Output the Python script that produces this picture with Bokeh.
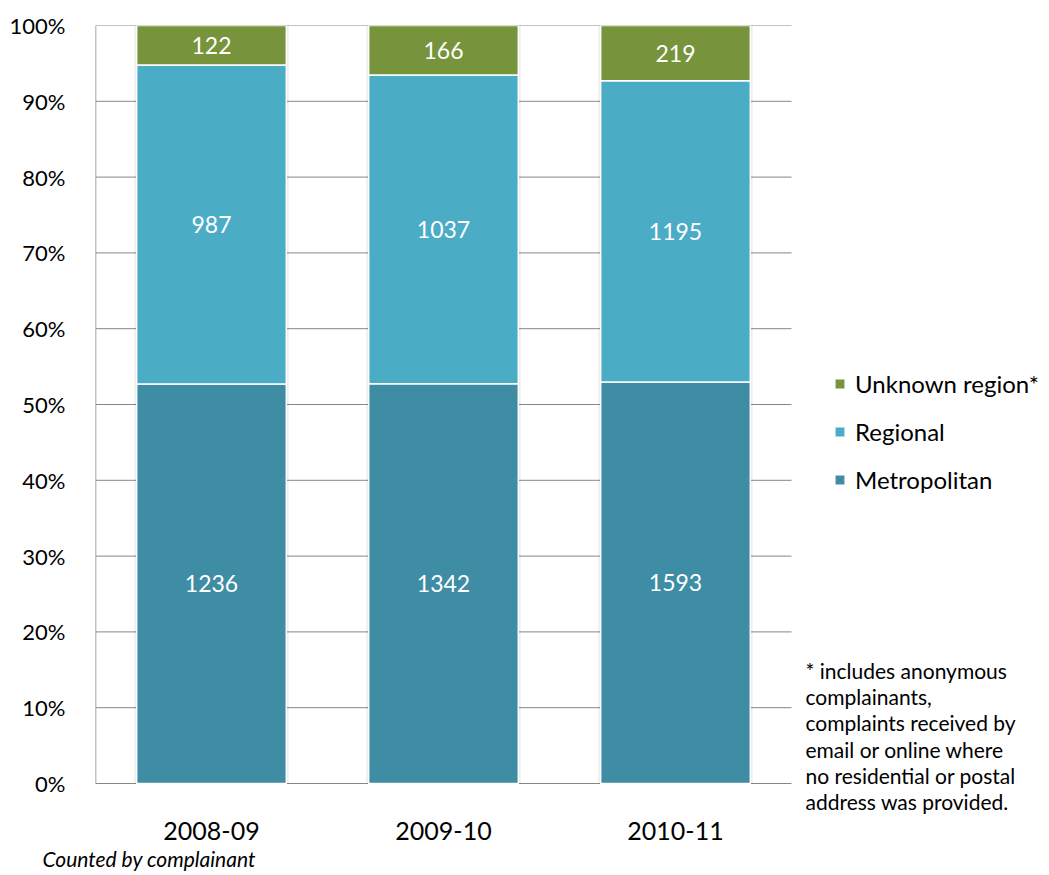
from bokeh.plotting import figure
from bokeh.models import (Range1d, NumeralTickFormatter, FixedTicker,
                          Legend, LegendItem, Label, ColumnDataSource, Title)
from bokeh.embed import file_html
from bokeh.resources import INLINE
from bokeh.core.properties import value

# ---- data ----
years = ["2008-09", "2009-10", "2010-11"]
metropolitan = [1236, 1342, 1593]
regional = [987, 1037, 1195]
unknown = [122, 166, 219]
series_names = ["Metropolitan", "Regional", "Unknown region*"]
series_colors = ["#3E8DA5", "#4BACC6", "#77933C"]
y_ticks = [0.0, 0.1, 0.2, 0.3, 0.4, 0.5, 0.6, 0.7, 0.8, 0.9, 1.0]
footnote_lines = ["* includes  anonymous", "complainants,", "complaints received by",
                  "email or online where", "no residential or postal",
                  "address was provided."]
caption = "Counted by complainant"

FONT = "Lato"
W, H = 1049, 875
LEFT, TOP = 95, 25
ZERO_Y = 783          # pixel row of 0%
FRAME_BOTTOM = 817    # frame extends a little below 0% to hold the footnote
PLOT_PX = 696         # pixel width of the category area
PX_PER_UNIT_Y = ZERO_Y - TOP

n = len(years)
xs = [i + 0.5 for i in range(n)]
x_end = n * (W - LEFT) / PLOT_PX
y_start = -(FRAME_BOTTOM - ZERO_Y) / PX_PER_UNIT_Y

totals = [m + r + u for m, r, u in zip(metropolitan, regional, unknown)]
series = [metropolitan, regional, unknown]

p = figure(x_range=Range1d(0, x_end), y_range=Range1d(y_start, 1),
           width=W, height=H, output_backend="svg", toolbar_location=None,
           min_border_left=LEFT, min_border_right=0, min_border_top=TOP,
           min_border_bottom=H - FRAME_BOTTOM)
p.outline_line_color = None
p.background_fill_color = "white"
p.xgrid.grid_line_color = None
p.ygrid.grid_line_color = None

# gridlines over the category area only (0% line doubles as the x axis line)
p.segment(x0=[0] * len(y_ticks), x1=[n] * len(y_ticks), y0=y_ticks, y1=y_ticks,
          line_color="#868686", line_width=1)
# y axis line from 0% to 100%
p.segment(x0=[0], x1=[0], y0=[y_ticks[0]], y1=[y_ticks[-1]],
          line_color="#868686", line_width=1.5)

# shadow behind bars
p.vbar(x=xs, top=[1.0] * n, bottom=[0.0] * n, width=0.665,
       fill_color="#000000", fill_alpha=0.07, line_color=None)

bottoms = [0.0] * n
renderers = []
for vals, name, col in zip(series, series_names, series_colors):
    shares = [v / t for v, t in zip(vals, totals)]
    tops = [b + s for b, s in zip(bottoms, shares)]
    mids = [(b + t) / 2 for b, t in zip(bottoms, tops)]
    src = ColumnDataSource(dict(x=xs, top=tops, bottom=bottoms, mid=mids,
                                lab=[str(v) for v in vals]))
    r = p.vbar(x="x", top="top", bottom="bottom", width=0.645, source=src,
               fill_color=col, line_color="white", line_width=1.5)
    p.text(x="x", y="mid", text="lab", source=src, text_color="white",
           text_align="center", text_baseline="middle",
           text_font=value(FONT), text_font_size="23px")
    renderers.append((name, r))
    bottoms = tops

# axes
p.yaxis.ticker = FixedTicker(ticks=y_ticks)
p.yaxis.formatter = NumeralTickFormatter(format="0%")
p.xaxis.ticker = FixedTicker(ticks=xs)
p.xaxis.major_label_overrides = {x: y for x, y in zip(xs, years)}
for ax in (p.xaxis[0], p.yaxis[0]):
    ax.axis_line_color = None
    ax.major_tick_line_color = None
    ax.minor_tick_line_color = None
    ax.major_label_text_font = FONT
    ax.major_label_text_color = "black"
p.yaxis.major_label_text_font_size = "22px"
p.xaxis.major_label_text_font_size = "25px"
p.yaxis.major_label_standoff = 24
p.xaxis.major_label_standoff = -2

# legend
items = [LegendItem(label=name, renderers=[r]) for name, r in reversed(renderers)]
legend = Legend(items=items, location=(738, 288 + FRAME_BOTTOM - ZERO_Y + 1),
                orientation="vertical",
                glyph_width=13, glyph_height=13, label_standoff=9, spacing=19,
                padding=0, margin=0, border_line_color=None,
                background_fill_alpha=0, label_text_font=FONT,
                label_text_font_size="24px", label_text_color="black")
p.add_layout(legend, "center")

# footnote
for i, line in enumerate(footnote_lines):
    p.add_layout(Label(x=710, y=FRAME_BOTTOM - 670 - 26.2 * i, x_units="screen",
                       y_units="screen", text=line, text_font=FONT,
                       text_font_size="21px", text_color="black",
                       text_baseline="middle"))

# caption below
p.add_layout(Title(text=caption, align="left", offset=-53, standoff=2,
                   text_font=FONT, text_font_size="21px", text_font_style="italic",
                   text_color="black"), "below")

open("out.html", "w").write(file_html(p, INLINE))
